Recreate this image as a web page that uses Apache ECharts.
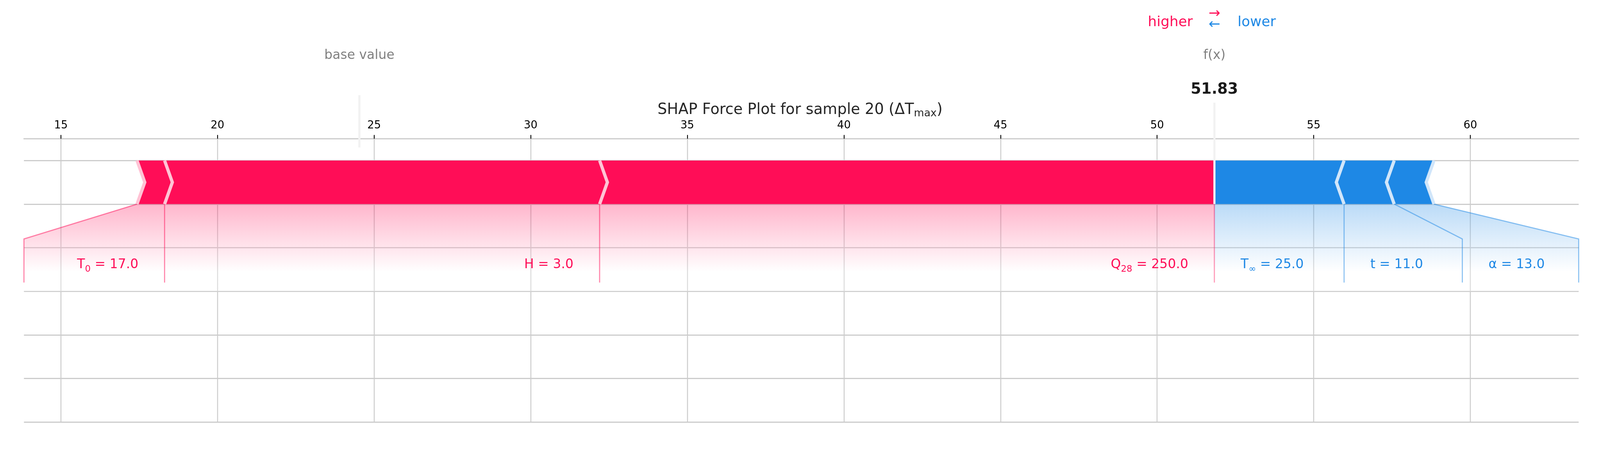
<!DOCTYPE html>
<html>
<head>
<meta charset="utf-8">
<script src="https://cdn.jsdelivr.net/npm/echarts@6/dist/echarts.min.js"></script>
<style>
    html, body { margin: 0; padding: 0; background: #fff; overflow: hidden; }
    #chart { width: 100vw; }
</style>
</head>
<body>
<div id="chart"></div>
<script>
const featureNames = ['T', 'H', 'Q', 'T', 't', 'α']
const featureSubs = ['0', '', '28', '∞', '', '']
const featureValues = ['17.0', '3.0', '250.0', '25.0', '11.0', '13.0']
const shapValues = [0.88, 13.89, 19.63, -4.14, -1.60, -1.27]
const baseValue = 24.53
const outValue = 51.83
const xTicks = [15, 20, 25, 30, 35, 40, 45, 50, 55, 60]
const xRange = [13.82, 63.46]
const yRange = [-0.5, 0.15]

const el = document.getElementById('chart')
// sizes below are measured on a 4277x1204 picture, scale them to the real container
const k = el.clientWidth / 4277
el.style.height = (1204 * k) + 'px'
const s = v => v * k

const FONT = 'DejaVu Sans'
const RED = '#FF0D57'
const BLUE = '#1E88E5'
const LABEL_SIZE = s(34.5)
const SUB_SIZE = s(24)
const NEAR_GAP = s(70)
const PAD = s(10)
const FAR_GAP = s(95)
const barHeight = 0.1
const sepIndent = (xRange[1] - xRange[0]) / 200

// red features go left from f(x), blue ones go right, biggest first
function buildSegments(sign) {
    const order = shapValues.map((v, i) => i)
        .filter(i => sign > 0 ? shapValues[i] > 0 : shapValues[i] < 0)
        .sort((a, b) => Math.abs(shapValues[b]) - Math.abs(shapValues[a]))
    let pre = outValue
    return order.map((i, n) => {
        const end = pre - shapValues[i]
        const seg = [pre, end, sign, n, i]
        pre = end
        return seg
    })
}
const posSegs = buildSegments(1)
const negSegs = buildSegments(-1)

const measureCtx = document.createElement('canvas').getContext('2d')
function textWidth(i) {
    measureCtx.font = `${LABEL_SIZE}px "${FONT}"`
    let w = measureCtx.measureText(`${featureNames[i]} = ${featureValues[i]}`).width
    if (featureSubs[i]) {
        measureCtx.font = `${SUB_SIZE}px "${FONT}"`
        w += measureCtx.measureText(featureSubs[i]).width
    }
    return w
}
function labelText(i) {
    return featureNames[i] + (featureSubs[i] ? `{sub|${featureSubs[i]}}` : '') + ` = ${featureValues[i]}`
}
const subRich = {
    sub: { fontFamily: FONT, fontSize: SUB_SIZE, lineHeight: SUB_SIZE, verticalAlign: 'bottom' }
}

function textEl(x, y, text, size, fill, align, extra) {
    return {
        type: 'text',
        style: Object.assign({
            x, y: y - 0.346 * size, text, fill,
            fontFamily: FONT, fontSize: size, lineHeight: size * 1.4,
            align, verticalAlign: 'middle'
        }, extra || {})
    }
}

function renderLabels(params, api) {
    const sign = api.value(0)
    const segs = sign > 0 ? posSegs : negSegs
    const color = sign > 0 ? RED : BLUE
    const rgb = sign > 0 ? '255,13,87' : '30,136,229'
    const px = v => api.coord([v, 0])[0]
    const py = v => api.coord([xRange[0], v])[1]
    const y0 = py(0), y1 = py(-0.08), y2 = py(-0.18), yShade = py(-0.2)
    const edge = px(sign > 0 ? xRange[0] : xRange[1])
    const outPx = px(outValue)
    const stroke = `rgba(${rgb},0.5)`
    const line = pts => ({ type: 'polyline', shape: { points: pts }, style: { stroke, lineWidth: s(2.9), fill: null } })
    const children = []
    if (sign > 0) children.push(line([[outPx, y0], [outPx, y2]]))
    let start = outPx, boxEnd = outPx, prePx = outPx
    segs.forEach((seg, n) => {
        const i = seg[4]
        const valPx = px(seg[1])
        const anchor = start - sign * NEAR_GAP
        const farEdge = anchor - sign * (textWidth(i) + PAD)
        children.push(textEl(anchor, py(-0.15), labelText(i), LABEL_SIZE, color,
            sign > 0 ? 'right' : 'left', { lineHeight: LABEL_SIZE * 1.4, rich: subRich }))
        if (sign * farEdge > sign * valPx) {
            children.push(line([[valPx, y0], [valPx, y2]]))
            start = boxEnd = valPx
        } else {
            boxEnd = n === segs.length - 1 ? edge : farEdge - sign * FAR_GAP
            children.push(line([[valPx, y0], [boxEnd, y1], [boxEnd, y2]]))
            start = boxEnd
        }
        prePx = valPx
    })
    children.unshift({
        type: 'polygon',
        shape: { points: [[outPx, y0], [prePx, y0], [boxEnd, y1], [boxEnd, yShade], [outPx, yShade]] },
        style: {
            fill: new echarts.graphic.LinearGradient(0, 0, 0, 1, [
                { offset: 0, color: `rgba(${rgb},0.3)` },
                { offset: 0.775, color: 'rgba(255,255,255,0.3)' },
                { offset: 1, color: 'rgba(255,255,255,0.3)' }
            ])
        }
    })
    return { type: 'group', children }
}

function renderBar(params, api) {
    const from = api.value(0), to = api.value(1), sign = api.value(2), n = api.value(3)
    const left = Math.min(from, to), right = Math.max(from, to)
    const ind = sepIndent * sign
    const w = barHeight
    let pts
    if (n === 0) {
        pts = sign > 0
            ? [[left, 0], [right, 0], [right, w], [left, w], [left + ind, w / 2]]
            : [[right, 0], [left, 0], [left, w], [right, w], [right + ind, w / 2]]
    } else {
        pts = [[left, 0], [right, 0], [right + ind * 0.9, w / 2], [right, w], [left, w], [left + ind * 0.9, w / 2]]
    }
    return {
        type: 'polygon',
        shape: { points: pts.map(p => api.coord(p)) },
        style: { fill: sign > 0 ? RED : BLUE }
    }
}

function renderSeparator(params, api) {
    const from = api.value(0), to = api.value(1), sign = api.value(2)
    const pos = sign > 0 ? Math.min(from, to) : Math.max(from, to)
    const ind = sepIndent * sign
    return {
        type: 'polyline',
        shape: { points: [[pos, 0], [pos + ind, barHeight / 2], [pos, barHeight]].map(p => api.coord(p)) },
        style: { stroke: sign > 0 ? '#FFC3D5' : '#D1E6FA', lineWidth: s(8.6), fill: null }
    }
}

function renderRefLine(params, api) {
    const a = api.coord([api.value(0), api.value(1)])
    const b = api.coord([api.value(0), api.value(2)])
    return { type: 'line', shape: { x1: a[0], y1: a[1], x2: b[0], y2: b[1] }, style: { stroke: '#F2F2F2', lineWidth: s(5.75) } }
}

function renderTopText(params, api) {
    const px = v => api.coord([v, 0])[0]
    const py = v => api.coord([xRange[0], v])[1]
    const out = px(outValue)
    const grey = 'rgba(0,0,0,0.5)'
    return {
        type: 'group',
        children: [
            textEl(px(baseValue), py(0.33), 'base value', s(34.5), grey, 'center'),
            textEl(out, py(0.33), 'f(x)', s(34.5), grey, 'center'),
            textEl(out, py(0.25), outValue.toFixed(2), s(40), '#1a1a1a', 'center',
                { fontWeight: 'bold', backgroundColor: '#fff', padding: [s(6), s(10), s(6), s(10)] }),
            textEl(out - s(58), py(0.405), 'higher', s(37.4), RED, 'right'),
            textEl(out + s(62), py(0.405), 'lower', s(37.4), BLUE, 'left'),
            textEl(out, py(0.425), '→', s(37.4), RED, 'center'),
            textEl(out, py(0.4), '←', s(37.4), BLUE, 'center')
        ]
    }
}

const chart = echarts.init(el)
chart.setOption({
    animation: false,
    backgroundColor: '#fff',
    textStyle: { fontFamily: FONT },
    title: {
        text: 'SHAP Force Plot for sample 20 (ΔT{sub|max})',
        left: 'center',
        top: s(265),
        textStyle: {
            fontFamily: FONT, fontSize: s(40), fontWeight: 'normal', color: '#262626', lineHeight: s(48),
            rich: { sub: { fontFamily: FONT, fontSize: s(28), lineHeight: s(28), verticalAlign: 'bottom', color: '#262626' } }
        }
    },
    grid: { left: s(64), right: s(57), top: s(371), bottom: s(75), outerBoundsMode: 'none' },
    xAxis: {
        type: 'value',
        position: 'top',
        min: xRange[0],
        max: xRange[1],
        splitNumber: 10,
        axisLine: { show: true, onZero: false, lineStyle: { color: '#cccccc', width: s(3) } },
        axisTick: { show: true, length: s(10), customValues: xTicks, lineStyle: { color: '#000', width: s(2.3) } },
        axisLabel: { customValues: xTicks, fontFamily: FONT, fontSize: s(28.75), color: '#000', margin: s(20) },
        splitLine: { show: true, lineStyle: { color: '#cccccc', width: s(2.6) } }
    },
    yAxis: {
        type: 'value',
        min: yRange[0],
        max: yRange[1],
        interval: 0.1,
        axisLine: { show: false },
        axisTick: { show: false },
        axisLabel: { show: false },
        splitLine: { show: true, lineStyle: { color: '#cccccc', width: s(3) } }
    },
    series: [
        { type: 'custom', renderItem: renderLabels, data: [[1], [-1]], silent: true },
        { type: 'custom', renderItem: renderBar, data: posSegs.concat(negSegs), silent: true },
        { type: 'custom', renderItem: renderSeparator, data: posSegs.concat(negSegs), silent: true },
        { type: 'custom', renderItem: renderRefLine, data: [[baseValue, 0.13, 0.25], [outValue, 0, 0.24]], silent: true },
        { type: 'custom', renderItem: renderTopText, data: [[outValue]], silent: true }
    ]
})
</script>
</body>
</html>
